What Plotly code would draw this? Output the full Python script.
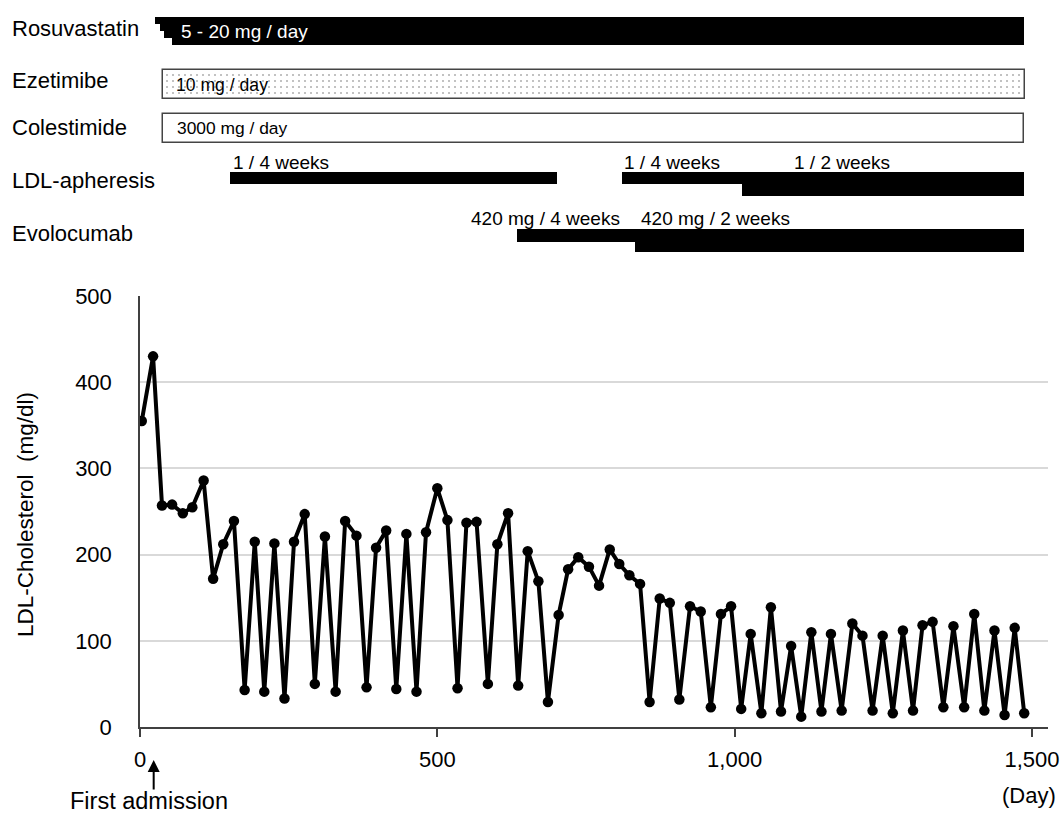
import plotly.graph_objects as go

# ---------------- data ----------------
days = [3, 22, 37, 54, 72, 88, 107, 123, 140, 158, 176, 193, 209, 226, 243, 259, 277, 294,
        311, 329, 345, 364, 381, 397, 414, 431, 448, 465, 481, 500, 517, 534, 549, 566,
        585, 601, 619, 636, 652, 670, 686, 704, 720, 737, 755, 772, 790, 806, 823, 841,
        857, 874, 891, 907, 925, 943, 960, 977, 994, 1011, 1027, 1045, 1061, 1078, 1095,
        1112, 1129, 1146, 1162, 1180, 1198, 1215, 1232, 1249, 1266, 1283, 1300, 1316,
        1333, 1351, 1368, 1386, 1403, 1420, 1437, 1454, 1471, 1487]
ldl = [355, 430, 257, 258, 248, 255, 286, 172, 212, 239, 43, 215, 41, 213, 33, 215, 247, 50,
       221, 41, 239, 222, 46, 208, 228, 44, 224, 41, 226, 277, 240, 45, 237, 238,
       50, 212, 248, 48, 204, 169, 29, 130, 183, 197, 186, 164, 206, 189, 176, 166,
       29, 149, 144, 32, 140, 134, 23, 131, 140, 21, 108, 16, 139, 18, 94,
       12, 110, 18, 108, 19, 120, 106, 19, 106, 16, 112, 19, 118,
       122, 23, 117, 23, 131, 19, 112, 14, 115, 16]

x_tick_vals = [0, 500, 1000, 1500]
y_tick_vals = [0, 100, 200, 300, 400, 500]

# treatment periods (day start, day end)
rosuvastatin_steps = [26, 34, 40, 53]          # staircase start days (dose titration 5 -> 20 mg)
rosuvastatin_end = 1487
ezetimibe_period = (39, 1489)
colestimide_period = (39, 1487)
apheresis_q4w = [(152, 702), (811, 1487)]
apheresis_q2w = [(1013, 1487)]
evolocumab_q4w = [(634, 1487)]
evolocumab_q2w = [(833, 1487)]

FONT = "Liberation Sans, Arial, sans-serif"

# page geometry (body margin removed via post_script)
W, H = 1060, 814
PL, PR, PB = 140, 1048, 727          # page px of plot left / right / bottom
PT_MAIN = 296                        # page px of y=500
ML, MR, MB = PL, W - PR, H - PB
PH = H - MB                          # plot height (t = 0)
PW = PR - PL


def py(page_y):
    return (PB - page_y) / PH


def px(page_x):
    return (page_x - PL) / PW


fig = go.Figure()

# LDL-C line
fig.add_trace(go.Scatter(
    x=days, y=ldl, mode="lines+markers",
    line=dict(color="black", width=4),
    marker=dict(color="black", size=10.5),
    xaxis="x", yaxis="y", showlegend=False, hoverinfo="x+y"))


def hbar(start, end, yc, thick, color="black", line_color="black", line_w=0, pattern=None):
    m = dict(color=color, line=dict(color=line_color, width=line_w))
    if pattern:
        m["pattern"] = pattern
    fig.add_trace(go.Bar(
        x=[end - start], base=[start], y=[yc], width=[thick], orientation="h",
        marker=m, xaxis="x", yaxis="y2", showlegend=False, hoverinfo="skip"))


# Rosuvastatin staircase (y2 axis in page-pixel units)
step_h = 6.95
for i, s in enumerate(rosuvastatin_steps):
    hbar(s, rosuvastatin_end, 17.3 + step_h * (i + 0.5), step_h + 0.3)

# Ezetimibe (dotted)
hbar(ezetimibe_period[0], ezetimibe_period[1], 84.5, 29, color="white", line_color="#444",
     line_w=1.5, pattern=dict(shape=".", fgcolor="#666", bgcolor="white", size=6, solidity=0.1))
# Colestimide (open)
hbar(colestimide_period[0], colestimide_period[1], 128, 29, color="white", line_color="#444", line_w=1.5)
# LDL-apheresis
for s, e in apheresis_q4w:
    hbar(s, e, 178, 12.5)
for s, e in apheresis_q2w:
    hbar(s, e, 189.8, 11.8)
# Evolocumab
for s, e in evolocumab_q4w:
    hbar(s, e, 235.5, 12.5)
for s, e in evolocumab_q2w:
    hbar(s, e, 246.6, 10.2)

ann = []
# row labels
for txt, yc in [("Rosuvastatin", 28), ("Ezetimibe", 80), ("Colestimide", 127),
                ("LDL-apheresis", 180), ("Evolocumab", 233)]:
    ann.append(dict(text=txt, xref="paper", x=px(10), xanchor="left",
                    yref="y2", y=yc, yanchor="middle", showarrow=False,
                    font=dict(size=22, color="black", family=FONT)))
# bar texts
bar_texts = [
    ("5 - 20 mg / day", 65, 31, 19, "white"),
    ("10 mg / day", 58, 85, 17.6, "black"),
    ("3000 mg / day", 59, 128, 17.4, "black"),
    ("1 / 4 weeks", 153, 162, 19, "black"),
    ("1 / 4 weeks", 811, 162, 19, "black"),
    ("1 / 2 weeks", 1097, 162, 19, "black"),
    ("420 mg / 4 weeks", 554, 218, 19, "black"),
    ("420 mg / 2 weeks", 840, 218, 19, "black"),
]
for txt, xd, yc, fs, col in bar_texts:
    ann.append(dict(text=txt, xref="x", x=xd, xanchor="left", yref="y2", y=yc,
                    yanchor="middle", showarrow=False,
                    font=dict(size=fs, color=col, family=FONT)))

# y-axis title
ann.append(dict(text="LDL-Cholesterol  (mg/dl)", xref="paper", x=px(25), xanchor="center",
                yref="paper", y=py(514), yanchor="middle", textangle=-90,
                showarrow=False, font=dict(size=22.5, color="black", family=FONT)))
# (Day)
ann.append(dict(text="(Day)", xref="paper", x=px(1029), xanchor="center",
                yref="paper", y=py(796), yanchor="middle", showarrow=False,
                font=dict(size=22, color="black", family=FONT)))
# First admission arrow + text
ann.append(dict(text="", xref="x", x=23, yref="paper", y=py(760),
                showarrow=True, ax=0, ay=31, arrowhead=2, arrowsize=1.2, arrowwidth=2,
                arrowcolor="black"))
ann.append(dict(text="First admission", xref="paper", x=px(148.5), xanchor="center",
                yref="paper", y=py(801), yanchor="middle", showarrow=False,
                font=dict(size=23.5, color="black", family=FONT)))

fig.update_layout(
    width=W, height=H,
    margin=dict(l=ML, r=MR, t=0, b=MB, pad=0, autoexpand=False),
    paper_bgcolor="white", plot_bgcolor="white",
    barmode="overlay", bargap=0, showlegend=False,
    font=dict(family=FONT, color="black"),
    xaxis=dict(domain=[0, 1], range=[0, 1527], anchor="y",
               tickvals=x_tick_vals, tickformat=",d",
               ticks="outside", ticklen=8, tickwidth=1.5, tickcolor="#404040",
               showline=True, linecolor="#404040", linewidth=2,
               showgrid=False, zeroline=False, automargin=False,
               tickfont=dict(size=22, color="black", family=FONT), ticklabelstandoff=4),
    yaxis=dict(domain=[0, py(PT_MAIN)], range=[0, 500], anchor="x",
               tickvals=y_tick_vals, showline=True, linecolor="#404040", linewidth=1.5,
               showgrid=True, gridcolor="#d9d9d9", gridwidth=1.5, zeroline=False,
               ticks="", tickfont=dict(size=22, color="black", family=FONT),
               ticklabelstandoff=22, automargin=False),
    yaxis2=dict(domain=[py(280), 1], range=[280, 0], anchor="x",
                visible=False, type="linear", automargin=False),
    annotations=ann,
)

fig.write_html("out.html", config={"displayModeBar": False},
               post_script="document.body.style.margin='0px';document.body.style.overflow='hidden';")
